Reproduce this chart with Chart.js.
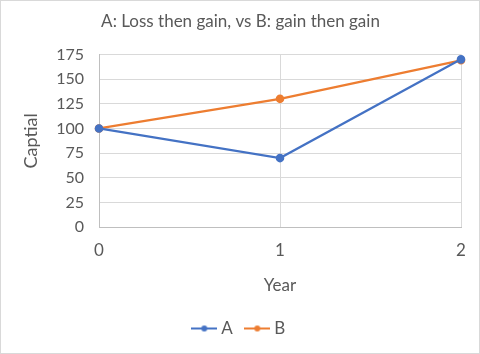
<!DOCTYPE html>
<html>
<head>
<meta charset="utf-8">
<script src="https://cdn.jsdelivr.net/npm/chart.js@4/dist/chart.umd.min.js"></script>
<style>
  html, body { margin: 0; padding: 0; background: #fff; }
  #wrap { width: 480px; height: 354px; box-sizing: border-box; border: 1px solid #d9d9d9; position: relative; }
</style>
</head>
<body>
<div id="wrap"><canvas id="chart"></canvas></div>
<script>
// data
const years = ["0", "1", "2"];
const capitalA = [100, 70, 170];
const capitalB = [100, 130, 169];
const yTicks = [0, 25, 50, 75, 100, 125, 150, 175];

const blue = "#4472c4";
const orange = "#ed7d31";
const grey = "#595959";

// legend marker: short line with a dot in the middle
function legendIcon(color) {
    const c = document.createElement("canvas");
    c.width = 26;
    c.height = 10;
    const g = c.getContext("2d");
    g.strokeStyle = color;
    g.lineWidth = 2;
    g.beginPath();
    g.moveTo(0, 5);
    g.lineTo(26, 5);
    g.stroke();
    g.fillStyle = color;
    g.beginPath();
    g.arc(13, 5, 3, 0, Math.PI * 2);
    g.fill();
    return c;
}

const ctx = document.getElementById("chart");

new Chart(ctx, {
    type: "line",
    data: {
        labels: years,
        datasets: [
            {
                label: "A",
                data: capitalA,
                borderColor: blue,
                backgroundColor: blue,
                borderWidth: 2.2,
                pointRadius: 3.2,
                pointHoverRadius: 3.2,
                tension: 0
            },
            {
                label: "B",
                data: capitalB,
                borderColor: orange,
                backgroundColor: orange,
                borderWidth: 2.2,
                pointRadius: 3.2,
                pointHoverRadius: 3.2,
                tension: 0
            }
        ]
    },
    options: {
        responsive: true,
        maintainAspectRatio: false,
        animation: false,
        layout: { padding: { left: 19, right: 18, top: 4, bottom: 6 } },
        plugins: {
            title: {
                display: true,
                text: "A: Loss then gain, vs B: gain then gain",
                color: grey,
                font: { family: "Lato", size: 17, weight: "normal" },
                padding: { top: 6, bottom: 23 }
            },
            legend: {
                position: "bottom",
                labels: {
                    color: grey,
                    font: { family: "Lato", size: 17 },
                    usePointStyle: true,
                    boxWidth: 26,
                    padding: 16,
                    generateLabels: chart => {
                        const items = Chart.defaults.plugins.legend.labels.generateLabels(chart);
                        items.forEach(it => {
                            it.pointStyle = legendIcon(chart.data.datasets[it.datasetIndex].borderColor);
                        });
                        return items;
                    }
                }
            },
            tooltip: { enabled: false }
        },
        scales: {
            x: {
                offset: false,
                grid: { color: "#d9d9d9", drawTicks: false },
                border: { color: "#bfbfbf" },
                ticks: { color: grey, font: { family: "Lato", size: 17 }, padding: 13 },
                title: {
                    display: true,
                    text: "Year",
                    color: grey,
                    font: { family: "Lato", size: 17 },
                    padding: { top: 2, bottom: 8 }
                }
            },
            y: {
                min: 0,
                max: 175,
                grid: { color: "#d9d9d9", drawTicks: false },
                border: { color: "#bfbfbf" },
                afterBuildTicks: axis => {
                    axis.ticks = yTicks.map(v => ({ value: v }));
                },
                afterFit: axis => {
                    axis.width = 79;
                },
                ticks: { color: grey, font: { family: "Lato", size: 16 }, padding: 15 },
                title: {
                    display: true,
                    text: "Captial",
                    color: grey,
                    font: { family: "Lato", size: 18 },
                    padding: { top: 0, bottom: 6 }
                }
            }
        }
    }
});
</script>
</body>
</html>
